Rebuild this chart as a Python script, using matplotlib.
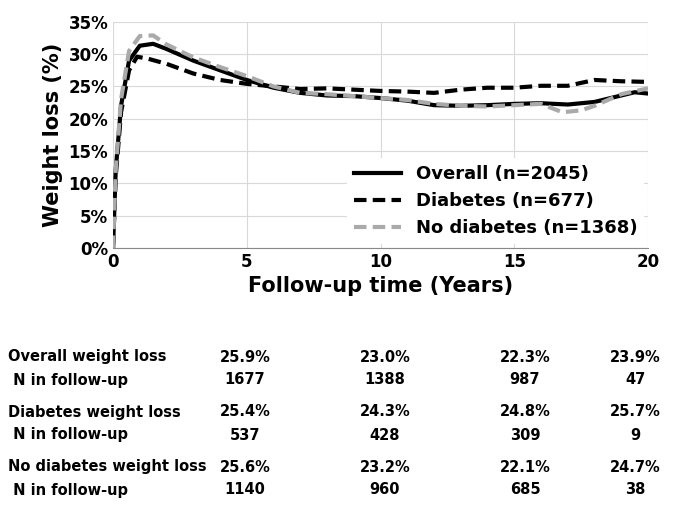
import matplotlib
matplotlib.use("Agg")
import matplotlib.pyplot as plt

t_over = [0, 0.1, 0.3, 0.6, 1.0, 1.5, 2.0, 3, 4, 5, 6, 7, 8, 9, 10, 11, 12, 13, 14, 15, 16, 17, 18, 19, 19.5, 20]
v_over = [0, 12, 22, 29, 31.3, 31.6, 30.8, 29, 27.5, 26, 24.8, 24, 23.6, 23.5, 23.2, 22.8, 22.1, 22.0, 22.1, 22.3, 22.4, 22.2, 22.6, 23.6, 24.1, 23.9]
t_dia = [0, 0.1, 0.3, 0.6, 0.9, 1.3, 2.0, 3, 4, 5, 6, 7, 8, 9, 10, 11, 12, 13, 14, 15, 16, 17, 18, 19, 20]
v_dia = [0, 11, 21, 27.5, 29.6, 29.3, 28.5, 27, 26, 25.4, 25.0, 24.6, 24.7, 24.5, 24.3, 24.2, 24.0, 24.5, 24.8, 24.8, 25.1, 25.1, 26.0, 25.8, 25.7]
t_nod = [0, 0.1, 0.3, 0.6, 1.0, 1.5, 2.0, 3, 4, 5, 6, 7, 8, 9, 10, 11, 12, 13, 14, 15, 16, 16.8, 17.5, 18, 19, 20]
v_nod = [0, 12, 23, 30.5, 32.8, 32.9, 31.5, 29.5, 28, 26.6, 25, 24, 23.8, 23.5, 23.2, 22.9, 22.3, 22.0, 21.9, 22.1, 22.3, 21.0, 21.3, 22.0, 23.8, 24.7]

row_labels = ["Overall weight loss", " N in follow-up", "Diabetes weight loss", " N in follow-up",
              "No diabetes weight loss", " N in follow-up"]
row_vals = [["25.9%", "23.0%", "22.3%", "23.9%"], ["1677", "1388", "987", "47"],
            ["25.4%", "24.3%", "24.8%", "25.7%"], ["537", "428", "309", "9"],
            ["25.6%", "23.2%", "22.1%", "24.7%"], ["1140", "960", "685", "38"]]

fig = plt.figure(figsize=(6.85, 5.08), dpi=100)
ax = fig.add_axes([0.165, 0.512, 0.781, 0.445])
ax.plot(t_over, v_over, color="black", lw=3, label="Overall (n=2045)")
ax.plot(t_dia, v_dia, color="black", lw=3, ls=(0, (3, 1.5)), label="Diabetes (n=677)")
ax.plot(t_nod, v_nod, color="#aaaaaa", lw=3, ls=(0, (3, 1.5)), label="No diabetes (n=1368)")
ax.set_xlim(0, 20)
ax.set_ylim(0, 35)
ax.set_xticks([0, 5, 10, 15, 20])
ax.set_yticks(range(0, 36, 5))
ax.set_yticklabels([f"{v}%" for v in range(0, 36, 5)])
ax.grid(True, color="#d9d9d9", lw=0.8)
for s in ["top", "right", "left"]:
    ax.spines[s].set_visible(False)
ax.spines["bottom"].set_color("#888888")
ax.tick_params(length=0, labelsize=12)
for lab in ax.get_xticklabels() + ax.get_yticklabels():
    lab.set_fontweight("bold")
ax.set_xlabel("Follow-up time (Years)", fontsize=15, fontweight="bold", labelpad=4)
ax.set_ylabel("Weight loss (%)", fontsize=15, fontweight="bold")
leg = ax.legend(loc="lower right", bbox_to_anchor=(1.0, 0.0), frameon=True, facecolor="white",
                edgecolor="none", framealpha=1, prop={"weight": "bold", "size": 13},
                handlelength=2.6, borderaxespad=0.2)

ys = [357, 380, 412, 435, 467, 490]
xs = [245, 385, 525, 635]
for i, (lab, vals) in enumerate(zip(row_labels, row_vals)):
    y = 1 - ys[i] / 508
    fig.text(8 / 685, y, lab, fontsize=10.5, fontweight="bold", va="center")
    for x, v in zip(xs, vals):
        fig.text(x / 685, y, v, fontsize=10.5, fontweight="bold", va="center", ha="center")

fig.savefig("out.png", dpi=100)
